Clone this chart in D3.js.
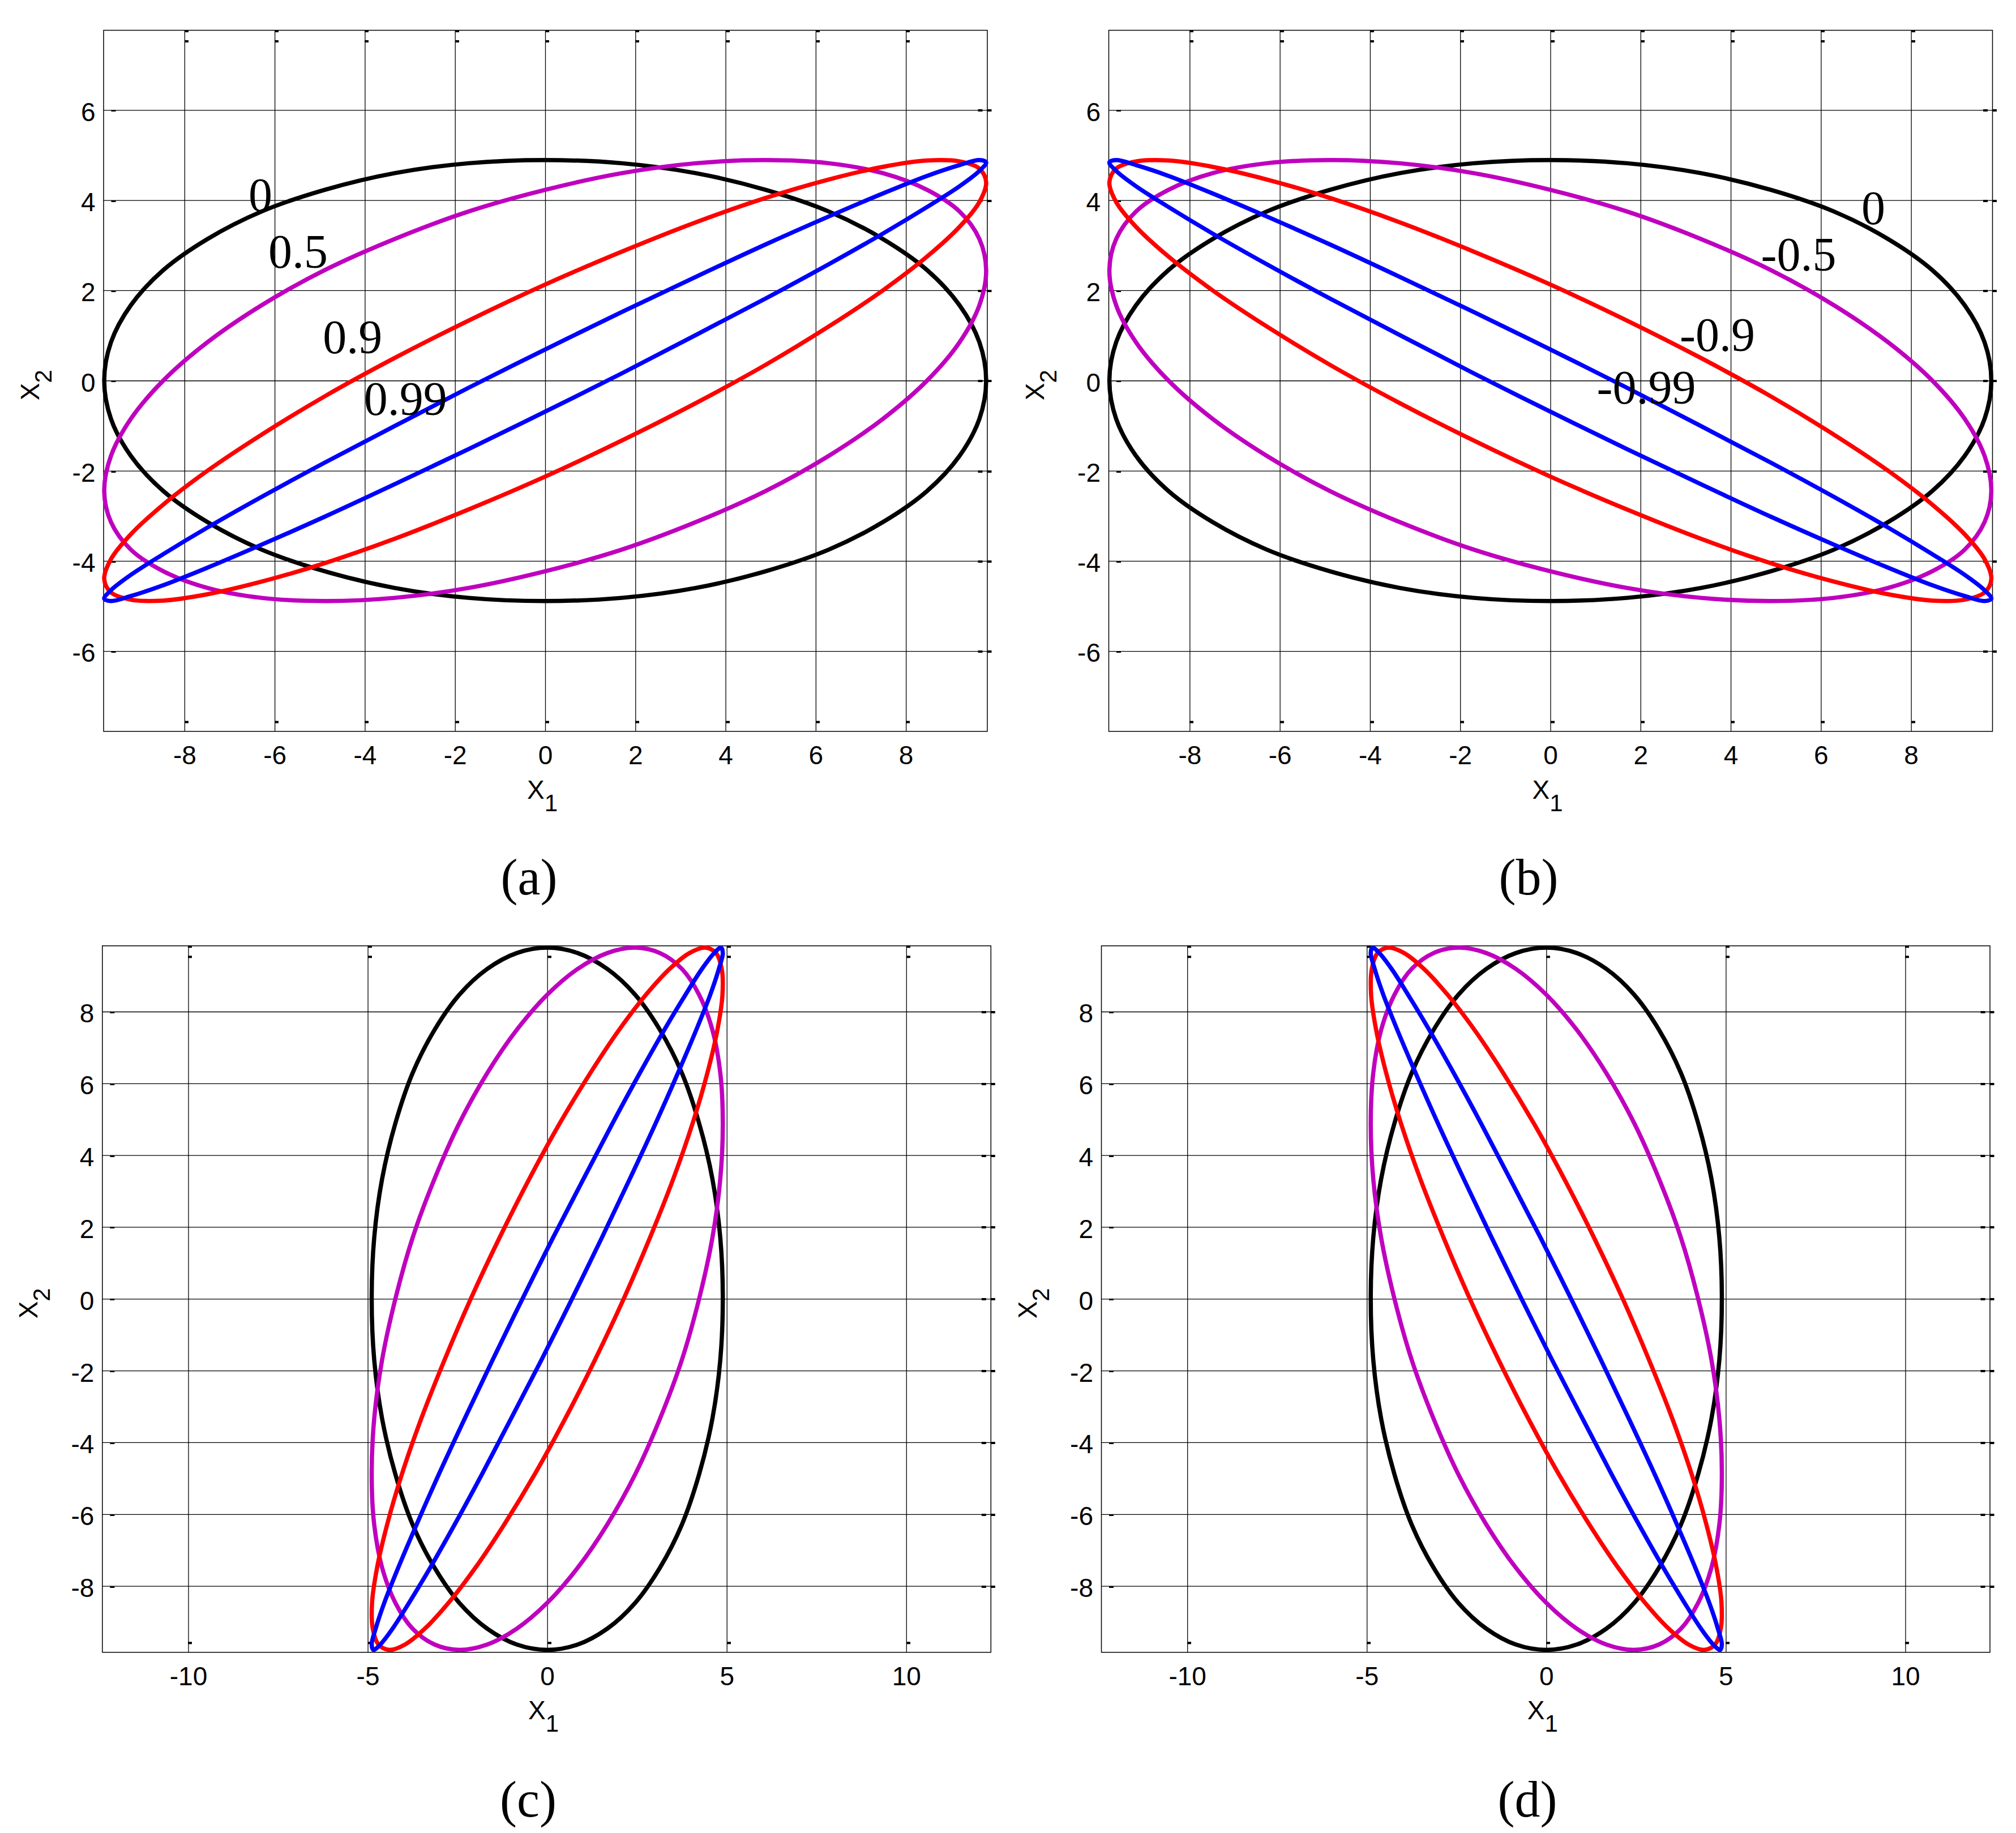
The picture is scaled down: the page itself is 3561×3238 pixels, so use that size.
<!DOCTYPE html>
<html><head><meta charset="utf-8">
<script src="https://cdn.jsdelivr.net/npm/d3@7"></script>
<style>html,body{margin:0;padding:0;background:#fff;} svg{display:block;}</style>
</head><body>
<svg id="chart" width="3561" height="3238"></svg>
<script>
// ---------- DATA ----------
// samples along the long axis of every contour (x1 in panels a,b ; x2 in panels c,d)
const longAxis = [9.78, 9.63, 9.19, 8.47, 7.49, 6.29, 4.89, 3.34, 1.70, 0, -1.70, -3.34, -4.89, -6.29, -7.49, -8.47, -9.19, -9.63, -9.78, -9.63, -9.19, -8.47, -7.49, -6.29, -4.89, -3.34, -1.70, 0, 1.70, 3.34, 4.89, 6.29, 7.49, 8.47, 9.19, 9.63];
// matching values along the short axis, one array per correlation coefficient
const shortRho0    = [0, 0.85, 1.67, 2.45, 3.14, 3.75, 4.23, 4.60, 4.82, 4.89, 4.82, 4.60, 4.23, 3.75, 3.14, 2.45, 1.67, 0.85, 0, -0.85, -1.67, -2.45, -3.14, -3.75, -4.23, -4.60, -4.82, -4.89, -4.82, -4.60, -4.23, -3.75, -3.14, -2.45, -1.67, -0.85];
const shortRho05   = [2.45, 3.14, 3.75, 4.23, 4.60, 4.82, 4.89, 4.82, 4.60, 4.23, 3.75, 3.14, 2.45, 1.67, 0.85, 0, -0.85, -1.67, -2.45, -3.14, -3.75, -4.23, -4.60, -4.82, -4.89, -4.82, -4.60, -4.23, -3.75, -3.14, -2.45, -1.67, -0.85, 0, 0.85, 1.67];
const shortRho09   = [4.40, 4.70, 4.86, 4.88, 4.74, 4.46, 4.05, 3.51, 2.86, 2.13, 1.33, 0.50, -0.35, -1.20, -2.00, -2.75, -3.41, -3.96, -4.40, -4.70, -4.86, -4.88, -4.74, -4.46, -4.05, -3.51, -2.86, -2.13, -1.33, -0.50, 0.35, 1.20, 2.00, 2.75, 3.41, 3.96];
const shortRho099  = [4.84, 4.89, 4.78, 4.54, 4.15, 3.64, 3.02, 2.30, 1.52, 0.69, -0.16, -1.01, -1.82, -2.58, -3.26, -3.85, -4.31, -4.65, -4.84, -4.89, -4.78, -4.54, -4.15, -3.64, -3.02, -2.30, -1.52, -0.69, 0.16, 1.01, 1.82, 2.58, 3.26, 3.85, 4.31, 4.65];
const shortRhoM05  = [-2.45, -1.67, -0.85, 0, 0.85, 1.67, 2.45, 3.14, 3.75, 4.23, 4.60, 4.82, 4.89, 4.82, 4.60, 4.23, 3.75, 3.14, 2.45, 1.67, 0.85, 0, -0.85, -1.67, -2.45, -3.14, -3.75, -4.23, -4.60, -4.82, -4.89, -4.82, -4.60, -4.23, -3.75, -3.14];
const shortRhoM09  = [-4.40, -3.96, -3.41, -2.75, -2.00, -1.20, -0.35, 0.50, 1.33, 2.13, 2.86, 3.51, 4.05, 4.46, 4.74, 4.88, 4.86, 4.70, 4.40, 3.96, 3.41, 2.75, 2.00, 1.20, 0.35, -0.50, -1.33, -2.13, -2.86, -3.51, -4.05, -4.46, -4.74, -4.88, -4.86, -4.70];
const shortRhoM099 = [-4.84, -4.65, -4.31, -3.85, -3.26, -2.58, -1.82, -1.01, -0.16, 0.69, 1.52, 2.30, 3.02, 3.64, 4.15, 4.54, 4.78, 4.89, 4.84, 4.65, 4.31, 3.85, 3.26, 2.58, 1.82, 1.01, 0.16, -0.69, -1.52, -2.30, -3.02, -3.64, -4.15, -4.54, -4.78, -4.89];

const seriesColors = ["#000000", "#BF00BF", "#FF0000", "#0000FF"];
const rhoLabelsPos = ["0", "0.5", "0.9", "0.99"];
const rhoLabelsNeg = ["0", "-0.5", "-0.9", "-0.99"];
// label anchors in data coordinates
const labelAnchorsA = [[-6.58, 3.76], [-6.14, 2.50], [-4.93, 0.61], [-4.02, -0.76]];
const labelAnchorsB = [[6.90, 3.47], [4.67, 2.44], [2.87, 0.66], [1.03, -0.51]];

const ticksWideX = [-8, -6, -4, -2, 0, 2, 4, 6, 8];
const ticksWideY = [-6, -4, -2, 0, 2, 4, 6];
const ticksTallX = [-10, -5, 0, 5, 10];
const ticksTallY = [-8, -6, -4, -2, 0, 2, 4, 6, 8];
const panelNames = ["(a)", "(b)", "(c)", "(d)"];

// ---------- DRAWING ----------
const svg = d3.select("#chart");
svg.append("rect").attr("width", 3561).attr("height", 3238).attr("fill", "#fff");

const TICK_FONT = "'Liberation Sans', Arial, sans-serif";
const SERIF = "'Liberation Serif', 'Times New Roman', serif";

function drawPanel(p) {
  const g = svg.append("g");
  const right = p.left + p.width, bottom = p.top + p.height;
  const x = d3.scaleLinear().domain(p.xDomain).range([p.left, right]);
  const y = d3.scaleLinear().domain(p.yDomain).range([bottom, p.top]);

  // grid lines via axes
  const gx = g.append("g").attr("transform", `translate(0,${bottom})`)
    .call(d3.axisBottom(x).tickValues(p.xTicks).tickSize(-p.height).tickFormat(""));
  const gy = g.append("g").attr("transform", `translate(${p.left},0)`)
    .call(d3.axisLeft(y).tickValues(p.yTicks).tickSize(-p.width).tickFormat(""));
  [gx, gy].forEach(a => { a.select(".domain").remove(); a.selectAll("line").attr("stroke", "#000").attr("stroke-width", 1.3); });

  // box
  g.append("rect").attr("x", p.left + 0.5).attr("y", p.top + 0.5)
    .attr("width", p.width).attr("height", p.height)
    .attr("fill", "none").attr("stroke", "#000").attr("stroke-width", 1.5);

  // small tick marks (MATLAB style dashes)
  const tm = g.append("g").attr("fill", "#000");
  p.xTicks.forEach(v => {
    const px = Math.round(x(v));
    tm.append("rect").attr("x", px).attr("y", p.top).attr("width", 7).attr("height", 4);
    tm.append("rect").attr("x", px).attr("y", p.top + 18).attr("width", 7).attr("height", 4);
    tm.append("rect").attr("x", px).attr("y", bottom - 18).attr("width", 7).attr("height", 4);
  });
  p.yTicks.forEach(v => {
    const py = Math.round(y(v));
    tm.append("rect").attr("x", p.left + 14).attr("y", py).attr("width", 8).attr("height", 3);
    tm.append("rect").attr("x", right - 16).attr("y", py - 1).attr("width", 8).attr("height", 4);
    tm.append("rect").attr("x", right).attr("y", py - 1).attr("width", 8).attr("height", 4);
  });

  // tick labels via axes
  const lx = g.append("g").attr("transform", `translate(0,${bottom})`)
    .call(d3.axisBottom(x).tickValues(p.xTicks).tickSize(0).tickPadding(26).tickFormat(d3.format("d")));
  const ly = g.append("g").attr("transform", `translate(${p.left},0)`)
    .call(d3.axisLeft(y).tickValues(p.yTicks).tickSize(0).tickPadding(14).tickFormat(d3.format("d")));
  [lx, ly].forEach(a => {
    a.select(".domain").remove();
    a.attr("font-family", TICK_FONT).attr("font-size", 46);
    a.selectAll("text").attr("fill", "#000").text(d => String(d).replace("\u2212", "-"));
  });
  ly.selectAll("text").attr("dy", "0.41em");

  // curves
  const line = d3.line().x(d => x(d[0])).y(d => y(d[1]))
    .curve(d3.curveCatmullRomClosed.alpha(0.5));
  g.append("g").selectAll("path").data(p.curves).join("path")
    .attr("d", d => line(d.points))
    .attr("fill", "none")
    .attr("stroke", d => d.color)
    .attr("stroke-width", 7.5)
    .attr("stroke-linejoin", "round");

  // curve labels
  if (p.labels) {
    g.append("g").selectAll("text").data(p.labels).join("text")
      .attr("x", d => x(d.at[0])).attr("y", d => y(d.at[1]))
      .attr("font-family", SERIF).attr("font-size", 84).attr("fill", "#000")
      .text(d => d.text);
  }

  // axis titles
  const xt = g.append("text").attr("x", (p.left + right) / 2 - 5).attr("y", bottom + 119)
    .attr("text-anchor", "middle").attr("font-family", TICK_FONT).attr("font-size", 46);
  xt.append("tspan").text("X");
  xt.append("tspan").attr("font-size", 42).attr("dy", 22).text("1");

  const cy = (p.top + bottom) / 2 + 8, cx = p.left - 114;
  const yt = g.append("text").attr("transform", `translate(${cx},${cy}) rotate(-90)`)
    .attr("text-anchor", "middle").attr("font-family", TICK_FONT).attr("font-size", 46);
  yt.append("tspan").text("X");
  yt.append("tspan").attr("font-size", 42).attr("dy", 22).text("2");

  // panel caption
  g.append("text").attr("x", p.captionX).attr("y", p.captionY)
    .attr("text-anchor", "middle").attr("font-family", SERIF).attr("font-size", 90)
    .text(p.caption);
}

function mk(longVals, shortVals, swap) {
  return swap ? d3.zip(shortVals, longVals) : d3.zip(longVals, shortVals);
}
const posSeries = [shortRho0, shortRho05, shortRho09, shortRho099];
const negSeries = [shortRho0, shortRhoM05, shortRhoM09, shortRhoM099];

function curvesFor(series, swap) {
  return series.map((s, i) => ({ color: seriesColors[i], points: mk(longAxis, s, swap) }));
}

const wideH = 1238.5, wideW = 1561;
const wideYHalf = 9.8 * wideH / wideW;
const tallH = 1248, tallYHalf = 9.84;
const tallUnit = tallH / (2 * tallYHalf);
const tallXDomain = [-12.4, 12.35];
const tallW = (tallXDomain[1] - tallXDomain[0]) * tallUnit;

drawPanel({
  left: 182.5, top: 53, width: wideW, height: wideH,
  xDomain: [-9.8, 9.8], yDomain: [-wideYHalf, wideYHalf],
  xTicks: ticksWideX, yTicks: ticksWideY,
  curves: curvesFor(posSeries, false),
  labels: rhoLabelsPos.map((t, i) => ({ text: t, at: labelAnchorsA[i] })),
  caption: panelNames[0], captionX: 934.5, captionY: 1580
});
drawPanel({
  left: 1958, top: 53, width: wideW, height: wideH,
  xDomain: [-9.8, 9.8], yDomain: [-wideYHalf, wideYHalf],
  xTicks: ticksWideX, yTicks: ticksWideY,
  curves: curvesFor(negSeries, false),
  labels: rhoLabelsNeg.map((t, i) => ({ text: t, at: labelAnchorsB[i] })),
  caption: panelNames[1], captionX: 2700, captionY: 1580
});
drawPanel({
  left: 180.3, top: 1670.3, width: tallW, height: tallH,
  xDomain: tallXDomain, yDomain: [-tallYHalf, tallYHalf],
  xTicks: ticksTallX, yTicks: ticksTallY,
  curves: curvesFor(posSeries, true),
  caption: panelNames[2], captionX: 933, captionY: 3209
});
drawPanel({
  left: 1945, top: 1670.3, width: tallW, height: tallH,
  xDomain: tallXDomain, yDomain: [-tallYHalf, tallYHalf],
  xTicks: ticksTallX, yTicks: ticksTallY,
  curves: curvesFor(negSeries, true),
  caption: panelNames[3], captionX: 2698, captionY: 3209
});
</script>
</body></html>
